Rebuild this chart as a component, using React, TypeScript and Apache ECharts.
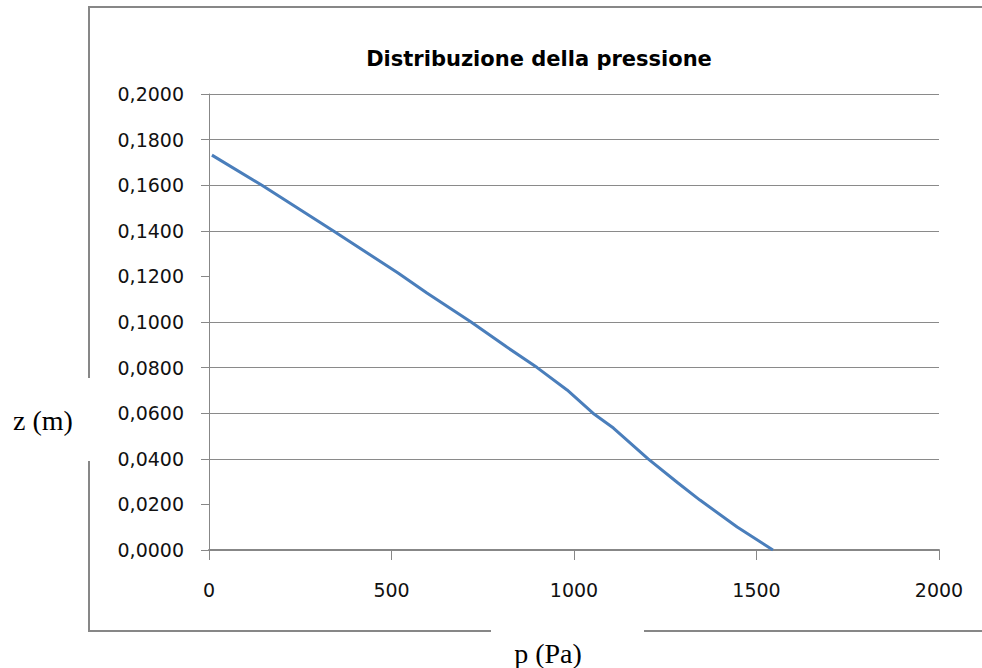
import React, { useEffect, useRef } from "react";
import * as echarts from "echarts";

const titleText = "Distribuzione della pressione";
const xAxisLabel = "p (Pa)";
const yAxisLabel = "z (m)";

// pressure p (Pa)
const pressure = [8, 145, 340, 518, 597, 718, 816, 899, 981, 1052, 1108, 1203, 1285, 1345, 1447, 1545];
// height z (m) matching each pressure
const height = [0.1732, 0.16, 0.14, 0.1215, 0.1127, 0.1, 0.089, 0.08, 0.0702, 0.06, 0.0535, 0.04, 0.0294, 0.0219, 0.0101, 0];

// horizontal gridlines visible in the reference
const gridLines = [0.04, 0.06, 0.08, 0.1, 0.14, 0.16, 0.18, 0.2];

const xMin = 0, xMax = 2000, xStep = 500;
const yMin = 0, yMax = 0.2, yStep = 0.02;

export default function App() {
  const ref = useRef<HTMLDivElement>(null);
  useEffect(() => {
    if (!ref.current) return;
    const chart = echarts.init(ref.current, null, { renderer: "svg" });
    const gray = "#878787";
    const grid = "#8a8a8a";
    const frame = (x1: number, y1: number, x2: number, y2: number) => ({
      type: "line",
      shape: { x1, y1, x2, y2 },
      style: { stroke: gray, lineWidth: 2 },
      silent: true,
    });
    chart.setOption({
      animation: false,
      backgroundColor: "#ffffff",
      grid: { left: 209, right: 43, top: 94, bottom: 118, containLabel: false },
      xAxis: {
        type: "value",
        min: xMin,
        max: xMax,
        interval: xStep,
        axisLine: { show: true, lineStyle: { color: gray, width: 2 } },
        axisTick: { show: true, length: 10, lineStyle: { color: gray, width: 1 } },
        axisLabel: {
          margin: 30,
          color: "#111",
          fontFamily: "DejaVu Sans",
          fontSize: 19,
          formatter: (v: number) => String(v),
        },
        splitLine: { show: false },
      },
      yAxis: {
        type: "value",
        min: yMin,
        max: yMax,
        interval: yStep,
        axisLine: { show: true, lineStyle: { color: gray, width: 1 } },
        axisTick: { show: true, length: 8, lineStyle: { color: gray, width: 1 } },
        axisLabel: {
          margin: 25,
          color: "#111",
          fontFamily: "DejaVu Sans",
          fontSize: 19,
          formatter: (v: number) => v.toFixed(4).replace(".", ","),
        },
        splitLine: { show: false },
      },
      series: [
        {
          type: "line",
          data: pressure.map((p, i) => [p, height[i]]),
          showSymbol: false,
          lineStyle: { color: "#4a7ebb", width: 3 },
          itemStyle: { color: "#4a7ebb" },
          z: 3,
          markLine: {
            silent: true,
            symbol: ["none", "none"],
            label: { show: false },
            lineStyle: { color: grid, width: 1, type: "solid" },
            emphasis: { disabled: true },
            z: 1,
            data: gridLines.map((y) => ({ yAxis: y })),
          },
        },
      ],
      graphic: [
        frame(88, 7, 982, 7),
        frame(89, 7, 89, 378),
        frame(89, 461, 89, 631),
        frame(88, 631, 491, 631),
        frame(644, 631, 982, 631),
        {
          type: "text",
          x: 539,
          y: 59,
          style: {
            text: titleText,
            fill: "#000",
            font: "bold 21px 'DejaVu Sans'",
            textAlign: "center",
            textVerticalAlign: "middle",
          },
        },
        {
          type: "text",
          x: 43,
          y: 420,
          style: {
            text: yAxisLabel,
            fill: "#000",
            font: "28px 'Liberation Serif'",
            textAlign: "center",
            textVerticalAlign: "middle",
          },
        },
        {
          type: "text",
          x: 548,
          y: 653,
          style: {
            text: xAxisLabel,
            fill: "#000",
            font: "28px 'Liberation Serif'",
            textAlign: "center",
            textVerticalAlign: "middle",
          },
        },
      ],
    });
    return () => chart.dispose();
  }, []);
  return (
    <div
      ref={ref}
      style={{ position: "absolute", left: 0, top: 0, width: 982, height: 668, background: "#fff" }}
    />
  );
}
